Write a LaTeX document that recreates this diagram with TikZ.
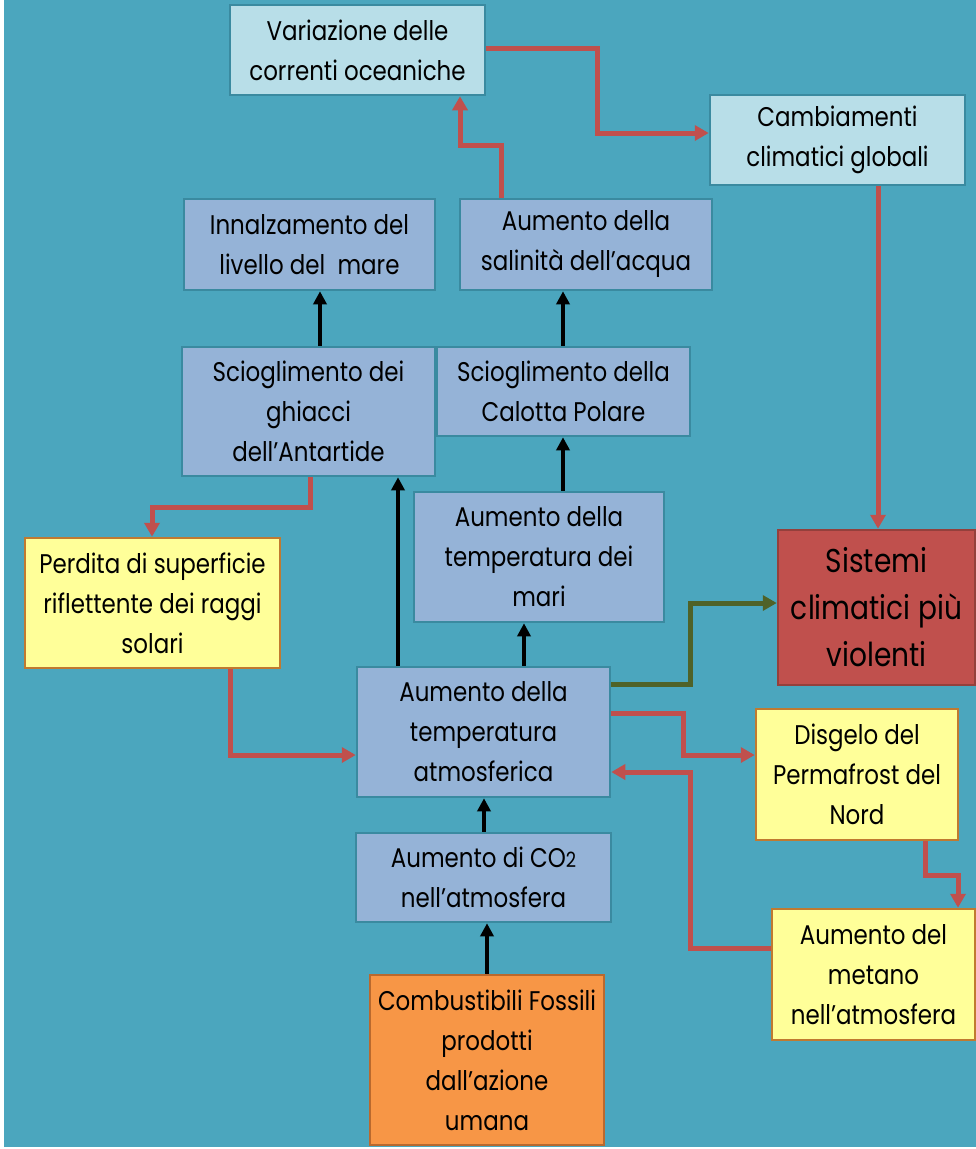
\documentclass[tikz,border=0pt]{standalone}
\usepackage{fontspec}
\setmainfont{Poppins}[FakeStretch=0.85]
\usetikzlibrary{arrows.meta,calc}
\definecolor{bgteal}{HTML}{4BA6BE}
\definecolor{lightbox}{HTML}{B8DEE8}
\definecolor{bluebox}{HTML}{95B3D7}
\definecolor{boxedge}{HTML}{3A8AA0}
\definecolor{yellowbox}{HTML}{FFFF99}
\definecolor{yellowedge}{HTML}{C07A30}
\definecolor{redbox}{HTML}{C0504D}
\definecolor{rededge}{HTML}{94403C}
\definecolor{orangebox}{HTML}{F79646}
\definecolor{orangeedge}{HTML}{B9692E}
\definecolor{redarrow}{HTML}{C0504D}
\definecolor{greenarrow}{HTML}{4F6228}
\tikzset{
  box/.style={rectangle, draw=boxedge, line width=2.5pt, align=center, inner sep=0pt,
    font=\fontsize{27}{40}\selectfont, text=black},
  lbox/.style={box, fill=lightbox},
  bbox/.style={box, fill=bluebox},
  ybox/.style={box, fill=yellowbox, draw=yellowedge},
  rbox/.style={box, fill=redbox, draw=rededge, font=\fontsize{33}{47}\selectfont},
  obox/.style={box, fill=orangebox, draw=orangeedge},
  redarr/.style={draw=redarrow, line width=5pt, -{Triangle[length=14pt,width=15pt]}},
  greenarr/.style={draw=greenarrow, line width=5pt, -{Triangle[length=14pt,width=15pt]}},
  blackarr/.style={draw=black, line width=4pt, -{Triangle[length=13pt,width=13pt]}},
}
\begin{document}
\begin{tikzpicture}[x=1pt,y=-1pt]
\useasboundingbox (0,0) rectangle (976,1149);
\fill[white] (0,0) rectangle (976,1149);
\fill[bgteal] (4,0) rectangle (976,1147);

\node[lbox, minimum width=255pt, minimum height=90pt] (var) at (357.5,50) {Variazione delle\\correnti oceaniche};
\node[lbox, minimum width=255pt, minimum height=90pt] (camb) at (837.5,140) {Cambiamenti\\climatici globali};
\node[bbox, minimum width=251pt, minimum height=91pt] (innal) at (309.5,244.5) {Innalzamento del\\livello del\ \ mare};
\node[bbox, minimum width=252pt, minimum height=91pt] (sal) at (586,244.5) {Aumento della\\salinità dell’acqua};
\node[bbox, minimum width=253pt, minimum height=129pt] (antar) at (308.5,411.5) {Scioglimento dei\\ghiacci\\dell’Antartide};
\node[bbox, minimum width=253pt, minimum height=89pt] (calotta) at (563.5,391.5) {Scioglimento della\\Calotta Polare};
\node[bbox, minimum width=250pt, minimum height=130pt] (mari) at (539,557) {Aumento della\\temperatura dei\\mari};
\node[ybox, minimum width=255pt, minimum height=130pt] (perdita) at (152.5,603) {Perdita di superficie\\riflettente dei raggi\\solari};
\node[rbox, minimum width=197pt, minimum height=155pt] (sistemi) at (876.5,607.5) {Sistemi\\climatici più\\violenti};
\node[bbox, minimum width=253pt, minimum height=130pt] (atmo) at (483.5,732) {Aumento della\\temperatura\\atmosferica};
\node[ybox, minimum width=202pt, minimum height=131pt] (disgelo) at (857,774.5) {Disgelo del\\Permafrost del\\Nord};
\node[bbox, minimum width=255pt, minimum height=89pt] (co2) at (483.5,877.5) {Aumento di CO{\fontsize{21}{40}\selectfont 2}\\nell’atmosfera};
\node[ybox, minimum width=203pt, minimum height=131pt] (metano) at (873.5,974.5) {Aumento del\\metano\\nell’atmosfera};
\node[obox, minimum width=234pt, minimum height=170pt] (comb) at (487,1060) {Combustibili Fossili\\prodotti\\dall’azione\\umana};

% red connectors
\draw[redarr] (var.east |- 0,48) -- (597,48) -- (597,133) -- (camb.west |- 0,133);
\draw[redarr] (sal.north -| 501,0) -- (501,145) -- (460,145) -- (var.south -| 460,0);
\draw[redarr] (camb.south -| 878,0) -- (sistemi.north -| 878,0);
\draw[redarr] (antar.south -| 310,0) -- (310,507) -- (152,507) -- (perdita.north -| 152,0);
\draw[redarr] (perdita.south -| 230,0) -- (230,755) -- (atmo.west |- 0,755);
\draw[redarr] (atmo.east |- 0,713) -- (683,713) -- (683,755) -- (disgelo.west |- 0,755);
\draw[redarr] (metano.west |- 0,948) -- (690,948) -- (690,772) -- (atmo.east |- 0,772);
\draw[redarr] (disgelo.south -| 925,0) -- (925,875) -- (958,875) -- (metano.north -| 958,0);
% green connector
\draw[greenarr] (atmo.east |- 0,684) -- (690,684) -- (690,603) -- (sistemi.west |- 0,603);
% black connectors
\draw[blackarr] (antar.north -| 320,0) -- (innal.south -| 320,0);
\draw[blackarr] (calotta.north -| 563,0) -- (sal.south -| 563,0);
\draw[blackarr] (mari.north -| 563,0) -- (calotta.south -| 563,0);
\draw[blackarr] (atmo.north -| 398,0) -- (antar.south -| 398,0);
\draw[blackarr] (atmo.north -| 524,0) -- (mari.south -| 524,0);
\draw[blackarr] (co2.north -| 484,0) -- (atmo.south -| 484,0);
\draw[blackarr] (comb.north -| 487,0) -- (co2.south -| 487,0);
\end{tikzpicture}
\end{document}
